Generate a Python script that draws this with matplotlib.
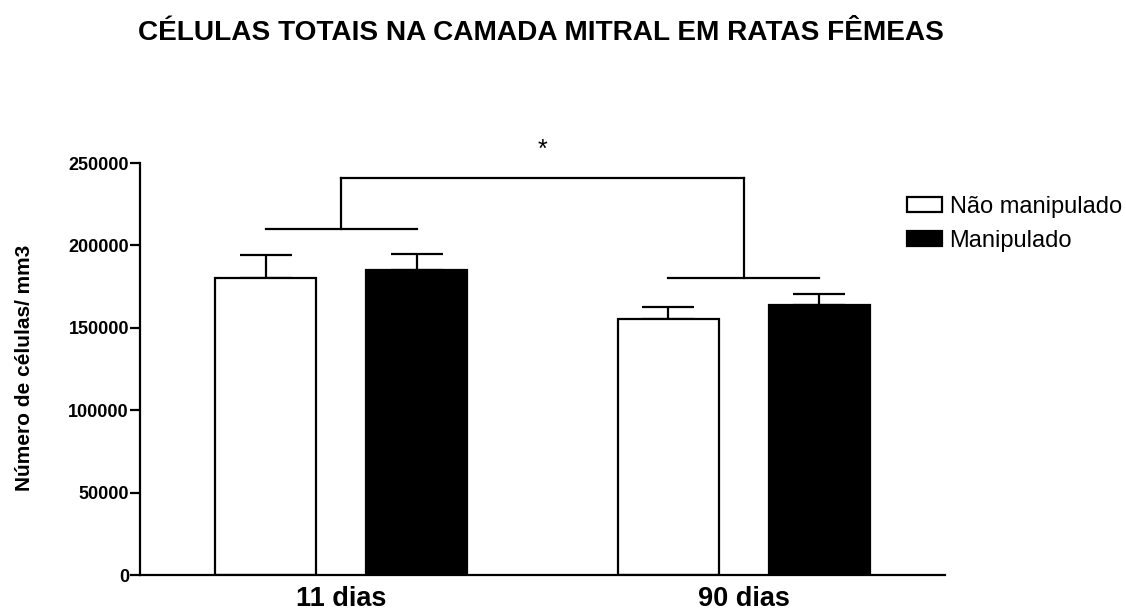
import matplotlib.pyplot as plt
import numpy as np

plt.rcParams['font.family'] = ['Liberation Sans', 'DejaVu Sans']

# data
groups = ["11 dias", "90 dias"]
series = ["Não manipulado", "Manipulado"]
nao_manipulado = [180000, 155500]
manipulado = [185000, 164000]
nao_manipulado_sem = [14000, 7000]
manipulado_sem = [10000, 6500]

# significance brackets: (lower bracket heights per group, top bracket height)
group_bracket_y = [210000, 180000]
top_bracket_y = 241000

fig = plt.figure(figsize=(11.26, 6.11), dpi=100)
ax = fig.add_axes([140/1126, 1-575/611, 805/1126, 412/611])

x = np.arange(len(groups))
w = 0.25
off = 0.1875
lw = 1.6

ax.bar(x - off, nao_manipulado, w, color="white", edgecolor="black", linewidth=lw,
       label=series[0], zorder=2)
ax.bar(x + off, manipulado, w, color="black", edgecolor="black", linewidth=lw,
       label=series[1], zorder=2)
ax.errorbar(x - off, nao_manipulado, yerr=[np.zeros(2), nao_manipulado_sem], fmt="none",
            ecolor="black", elinewidth=lw, capsize=19, capthick=lw, zorder=1)
ax.errorbar(x + off, manipulado, yerr=[np.zeros(2), manipulado_sem], fmt="none",
            ecolor="black", elinewidth=lw, capsize=19, capthick=lw, zorder=1)

# brackets
for i, yb in enumerate(group_bracket_y):
    ax.plot([x[i] - off, x[i] + off], [yb, yb], color="black", lw=lw, clip_on=False)
    ax.plot([x[i], x[i]], [yb, top_bracket_y], color="black", lw=lw, clip_on=False)
ax.plot([x[0], x[1]], [top_bracket_y, top_bracket_y], color="black", lw=lw, clip_on=False)
ax.text((x[0] + x[1]) / 2, 258000, "*", ha="center", va="center", fontsize=18, clip_on=False)

ax.set_xlim(-0.5, 1.5)
ax.set_ylim(0, 250000)
ax.set_yticks(np.arange(0, 250001, 50000))
ax.set_xticks(x)
ax.set_xticklabels(groups, fontsize=19.5, fontweight="bold")
ax.tick_params(axis="x", length=0, pad=8)
ax.tick_params(axis="y", length=7, width=lw, pad=1, labelsize=13)
for lab in ax.get_yticklabels():
    lab.set_fontweight("bold")

for s in ["top", "right"]:
    ax.spines[s].set_visible(False)
for s in ["left", "bottom"]:
    ax.spines[s].set_linewidth(lw)

ax.set_ylabel("Número de células/ mm3", fontsize=15, fontweight="bold")
ax.yaxis.set_label_coords(-0.132, 0.502)

ax.legend(loc="upper left", bbox_to_anchor=(907/1126, 1-196/611),
          bbox_transform=fig.transFigure, frameon=False, fontsize=17,
          handlelength=1.5, handleheight=0.6, handletextpad=0.3,
          labelspacing=0.5, borderpad=0, borderaxespad=0)

fig.text(541/1126, 1-33/611, "CÉLULAS TOTAIS NA CAMADA MITRAL EM RATAS FÊMEAS",
         ha="center", va="center", fontsize=20.2, fontweight="bold")

fig.savefig("out.png", dpi=100)
